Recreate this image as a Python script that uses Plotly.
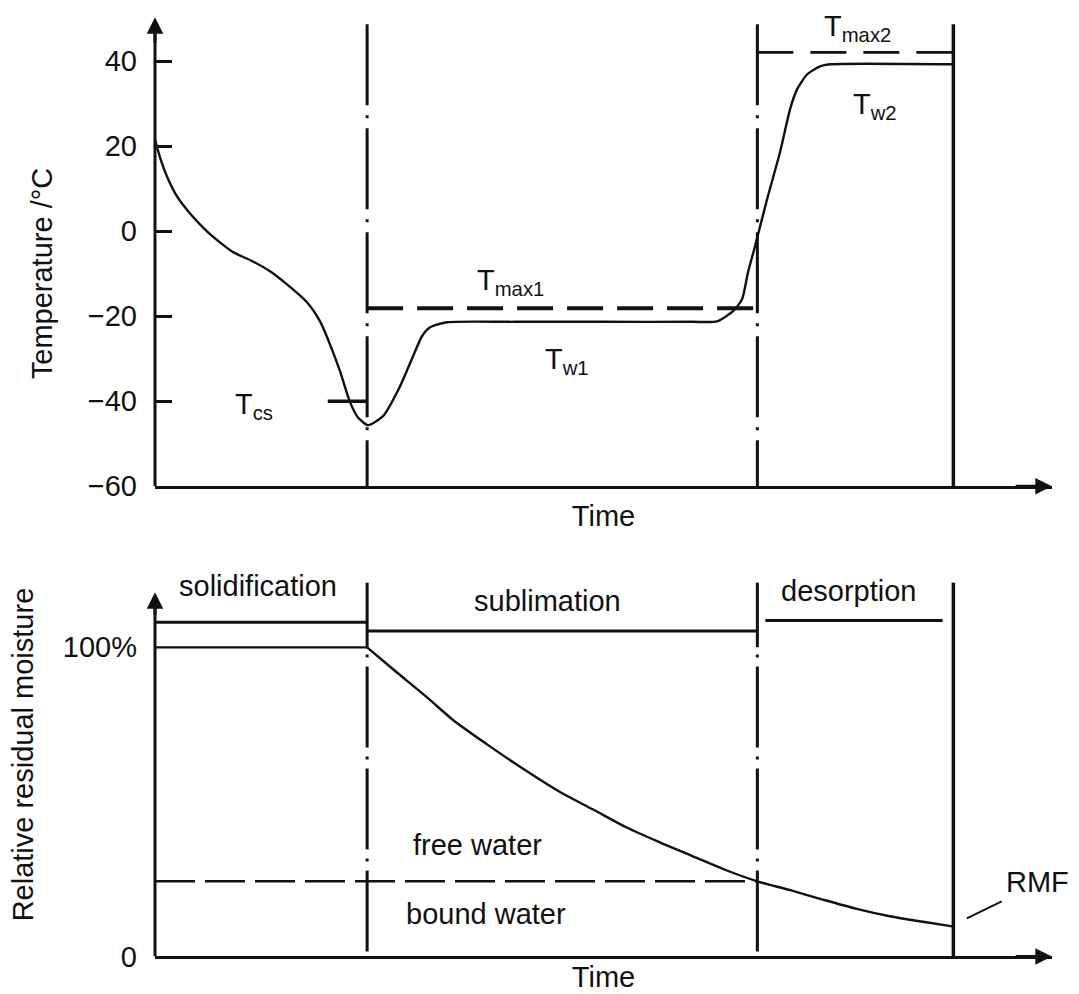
import plotly.graph_objects as go

# ---------------- data ----------------
phase_names = ["solidification", "sublimation", "desorption"]
phase_bounds = [0.0, 2.37, 6.73, 8.92]          # time at the phase boundaries

temp_time = [0.000, 0.056, 0.134, 0.246, 0.391, 0.581, 0.726, 0.872, 1.095, 1.285,
             1.475, 1.698, 1.844, 1.955, 2.067, 2.179, 2.268, 2.380, 2.547, 2.737,
             2.883, 2.983, 3.073, 3.263, 4.00, 5.00, 6.00, 6.279, 6.458, 6.559,
             6.626, 6.704, 6.838, 6.983, 7.095, 7.173, 7.285, 7.430, 7.542, 8.92]
temp_values = [21.6, 17.4, 12.9, 8.2, 4.2, 0.0, -2.6, -4.9, -7.1, -9.4,
               -12.5, -16.7, -21.2, -26.6, -32.9, -40.2, -43.8, -45.6, -43.5, -36.5,
               -29.4, -24.7, -22.6, -21.4, -21.3, -21.3, -21.3, -21.2, -18.8, -16.0,
               -9.6, -3.5, 7.5, 18.6, 28.7, 33.4, 36.9, 38.8, 39.3, 39.3]

moist_time = [0.00, 2.37, 2.66, 3.04, 3.33, 3.71, 4.16, 4.53, 4.89, 5.27, 5.64, 6.01,
              6.39, 6.73, 7.09, 7.46, 7.84, 8.21, 8.58, 8.91]
moist_values = [100, 100, 92.9, 83.8, 76.5, 68.6, 59.8, 53.1, 47.6, 41.7, 36.9, 32.4,
                27.8, 24.3, 21.5, 18.4, 15.4, 13.0, 11.2, 9.7]

T_max1 = -18.1
T_max2 = 42.1
T_cs = -40.0
bound_water_level = 24.3

temp_ticks = [40, 20, 0, -20, -40, -60]
moist_ticks = [0, 100]
moist_ticktext = ["0", "100%"]

# ---------------- layout constants ----------------
PAGE_PAD = 8                 # browser default body margin
W, H = 1063, 994
VSCALE = 0.9836              # vertical scale of the captured window


def px(sx):   # target window pixel -> paper x
    return (sx - PAGE_PAD) / W


def py(sy):   # target window pixel -> paper y
    return 1 - ((sy - 1) / VSCALE - PAGE_PAD) / H


FONT = "Liberation Sans, Arial, sans-serif"
FS = 29
BLACK = "#111111"
X_RANGE = [0, 10.022]
Y1_RANGE = [-60, 50.4]
Y2_RANGE = [0, 121.04]
DASHDOT = "81px,10px,3px,10px"
DASHDOT2 = "3px,9px,81px,9px"

fig = go.Figure()

fig.add_trace(go.Scatter(x=temp_time, y=temp_values, mode="lines",
                         line=dict(color=BLACK, width=2.4, shape="spline", smoothing=0.6),
                         xaxis="x", yaxis="y", hoverinfo="skip", showlegend=False))
# flat part (solidification) and drying curve (sublimation + desorption)
fig.add_trace(go.Scatter(x=moist_time[:2], y=moist_values[:2], mode="lines",
                         line=dict(color=BLACK, width=2.4),
                         xaxis="x2", yaxis="y2", hoverinfo="skip", showlegend=False))
fig.add_trace(go.Scatter(x=moist_time[1:], y=moist_values[1:], mode="lines",
                         line=dict(color=BLACK, width=2.4, shape="spline", smoothing=0.8),
                         xaxis="x2", yaxis="y2", hoverinfo="skip", showlegend=False))

shapes = []
t_a, t_b, t_c, t_d = phase_bounds
# ---- top panel ----
for tb in (t_b, t_c):
    shapes.append(dict(type="line", xref="x", yref="y", x0=tb, x1=tb, y0=48.7, y1=-60,
                       line=dict(color=BLACK, width=3, dash=DASHDOT)))
shapes.append(dict(type="line", xref="x", yref="y", x0=t_d, x1=t_d, y0=48.7, y1=-60,
                   line=dict(color=BLACK, width=3.5)))
shapes.append(dict(type="line", xref="x", yref="y", x0=t_b, x1=t_c, y0=T_max1, y1=T_max1,
                   line=dict(color=BLACK, width=4, dash="36px,14px")))
shapes.append(dict(type="line", xref="x", yref="y", x0=t_c, x1=t_d, y0=T_max2, y1=T_max2,
                   line=dict(color=BLACK, width=2.8, dash="36px,17px")))
shapes.append(dict(type="line", xref="x", yref="y", x0=1.93, x1=t_b, y0=T_cs, y1=T_cs,
                   line=dict(color=BLACK, width=3.5)))
shapes.append(dict(type="line", xref="paper", yref="y", x0=px(155), x1=px(155),
                   y0=-60, y1=48, line=dict(color=BLACK, width=3)))
# ---- bottom panel ----
for tb in (t_b, t_c):
    shapes.append(dict(type="line", xref="x2", yref="y2", x0=tb, x1=tb, y0=121.0, y1=100,
                       line=dict(color=BLACK, width=3)))
    shapes.append(dict(type="line", xref="x2", yref="y2", x0=tb, x1=tb, y0=97.7, y1=0,
                       line=dict(color=BLACK, width=3, dash=DASHDOT2)))
shapes.append(dict(type="line", xref="x2", yref="y2", x0=t_d, x1=t_d, y0=121.0, y1=0,
                   line=dict(color=BLACK, width=3.5)))
# phase bars
shapes.append(dict(type="line", xref="x2", yref="y2", x0=t_a, x1=t_b, y0=108.1, y1=108.1,
                   line=dict(color=BLACK, width=3)))
shapes.append(dict(type="line", xref="x2", yref="y2", x0=t_b, x1=t_c, y0=105.3, y1=105.3,
                   line=dict(color=BLACK, width=3)))
shapes.append(dict(type="line", xref="x2", yref="y2", x0=6.82, x1=8.80, y0=108.7, y1=108.7,
                   line=dict(color=BLACK, width=3)))
shapes.append(dict(type="line", xref="x2", yref="y2", x0=t_a, x1=t_c, y0=bound_water_level,
                   y1=bound_water_level, line=dict(color=BLACK, width=2.6, dash="40px,10px")))
shapes.append(dict(type="line", xref="x2", yref="y2", x0=9.07, x1=9.46, y0=12.3, y1=17.8,
                   line=dict(color=BLACK, width=2)))
shapes.append(dict(type="line", xref="paper", yref="y2", x0=px(155), x1=px(155),
                   y0=0, y1=115, line=dict(color=BLACK, width=3)))

ann = []


def txt(x, y, s, xr="x", yr="y", **kw):
    d = dict(x=x, y=y, xref=xr, yref=yr, text=s, showarrow=False,
             xanchor="center", yanchor="middle",
             font=dict(family=FONT, size=FS, color=BLACK))
    d.update(kw)
    ann.append(d)


txt(1.11, -41.0, "T<sub>cs</sub>")
txt(3.97, -12.0, "T<sub>max1</sub>")
txt(4.60, -30.6, "T<sub>w1</sub>")
txt(7.85, 1.0, "T<sub>max2</sub>", "x", "paper", yanchor="top")
txt(8.04, 29.4, "T<sub>w2</sub>")
txt(1.15, 120.0, phase_names[0], "x2", "y2")
txt(4.39, 114.9, phase_names[1], "x2", "y2")
txt(7.75, 118.1, phase_names[2], "x2", "y2")
txt(3.60, 36.2, "free water", "x2", "y2")
txt(3.70, 13.6, "bound water", "x2", "y2")
txt(px(1071), py(883), "RMF", "paper", "paper", xanchor="right")
# y-axis titles
txt(px(42), py(275), "Temperature /°C", "paper", "paper", textangle=-90)
txt(px(23), py(755), "Relative residual moisture", "paper", "paper", textangle=-90)


# axis arrows
def arrow(x, y, ax, ay, xr, yr):
    ann.append(dict(x=x, y=y, ax=ax, ay=ay, xref=xr, yref=yr, axref=xr, ayref=yr,
                    text="", showarrow=True, arrowhead=2, arrowsize=1.1,
                    arrowwidth=3, arrowcolor=BLACK))


arrow(0, 50.35, 0, 44, "x", "y")
arrow(10.02, -60, 9.6, -60, "x", "y")
arrow(0, 117.8, 0, 110, "x2", "y2")
arrow(10.02, 0, 9.6, 0, "x2", "y2")

xcommon = dict(range=X_RANGE, domain=[px(155), px(1052)], showgrid=False,
               zeroline=False, showticklabels=False, ticks="", showline=True,
               linecolor=BLACK, linewidth=3, fixedrange=True)

fig.update_layout(
    width=W, height=H,
    margin=dict(l=0, r=0, t=0, b=0),
    paper_bgcolor="white", plot_bgcolor="white",
    font=dict(family=FONT, size=FS, color=BLACK),
    showlegend=False,
    xaxis=dict(**xcommon, anchor="y",
               title=dict(text="Time", standoff=18, font=dict(family=FONT, size=FS, color=BLACK))),
    yaxis=dict(range=Y1_RANGE, domain=[py(487), py(18)], anchor="x",
               showgrid=False, zeroline=False, showline=False,
               tickvals=temp_ticks, ticks="inside", ticklen=17, tickwidth=3,
               tickcolor=BLACK, ticklabelstandoff=17,
               tickfont=dict(family=FONT, size=FS, color=BLACK)),
    xaxis2=dict(**xcommon, anchor="y2",
                title=dict(text="Time", standoff=9, font=dict(family=FONT, size=FS, color=BLACK))),
    yaxis2=dict(range=Y2_RANGE, domain=[py(957), py(583)], anchor="x2",
                showgrid=False, zeroline=False, showline=False,
                tickvals=moist_ticks, ticktext=moist_ticktext, ticks="",
                ticklabelstandoff=17,
                tickfont=dict(family=FONT, size=FS, color=BLACK)),
    shapes=shapes,
    annotations=ann,
)

fig.write_html("out.html", config={"displayModeBar": False})
